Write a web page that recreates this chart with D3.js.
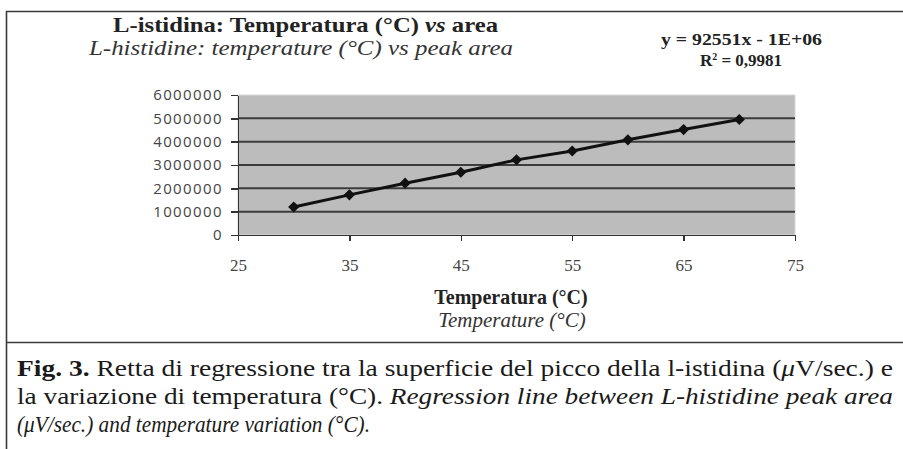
<!DOCTYPE html>
<html lang="it">
<head>
<meta charset="utf-8">
<title>L-istidina: temperatura vs area</title>
<script src="https://cdn.jsdelivr.net/npm/d3@7"></script>
<style>
  body { margin: 0; background: #fff; }
  svg { display: block; }
  .serif { font-family: "Liberation Serif", "Times New Roman", serif; }
  .axis path, .axis line { stroke: #333; stroke-width: 1.5; shape-rendering: crispEdges; }
  .y.axis text { font-family: "Open Sans", sans-serif; font-size: 15px; fill: #444; letter-spacing: 1.4px; }
  .x.axis text { font-family: "Liberation Serif", serif; font-size: 17px; fill: #444; }
</style>
</head>
<body>
<script>
  var w = 903;
  var h = 449;

  // data
  var temps = [30, 35, 40, 45, 50, 55, 60, 65, 70];
  var areas = [1200000, 1720000, 2220000, 2690000, 3220000, 3600000, 4080000, 4520000, 4950000];
  var xTicks = [25, 35, 45, 55, 65, 75];
  var yTicks = [0, 1000000, 2000000, 3000000, 4000000, 5000000, 6000000];

  var plot = { left: 238, right: 795, top: 95, bottom: 235 };

  var svg = d3.select("body").append("svg")
    .attr("width", w)
    .attr("height", h);

  // frame
  svg.append("path")
    .attr("d", "M903,11.5 H6.5 V449 M6.5,342.5 H903")
    .attr("fill", "none")
    .attr("stroke", "#3a3a3a")
    .attr("stroke-width", 1.6);

  var xScale = d3.scaleLinear().domain([25, 75]).range([plot.left, plot.right]);
  var yScale = d3.scaleLinear().domain([0, 6000000]).range([plot.bottom, plot.top]);

  svg.append("rect")
    .attr("x", plot.left)
    .attr("y", plot.top)
    .attr("width", plot.right - plot.left)
    .attr("height", plot.bottom - plot.top)
    .attr("fill", "#bcbcbc")
    .attr("stroke", "#d8d8d8");

  // gridlines
  svg.selectAll("line.grid")
    .data(yTicks.slice(1, -1))
    .enter()
    .append("line")
    .attr("class", "grid")
    .attr("x1", plot.left)
    .attr("x2", plot.right)
    .attr("y1", function(d) { return yScale(d); })
    .attr("y2", function(d) { return yScale(d); })
    .attr("stroke", "#3c3c3c")
    .attr("stroke-width", 2);

  var yAxis = d3.axisLeft(yScale)
    .tickValues(yTicks)
    .tickFormat(function(d) { return String(d); })
    .tickSize(7)
    .tickPadding(8)
    .tickSizeOuter(0);

  var xAxis = d3.axisBottom(xScale)
    .tickValues(xTicks)
    .tickFormat(d3.format("d"))
    .tickSize(6)
    .tickPadding(18)
    .tickSizeOuter(0);

  svg.append("g")
    .attr("class", "y axis")
    .attr("transform", "translate(" + plot.left + ",0)")
    .call(yAxis);

  svg.append("g")
    .attr("class", "x axis")
    .attr("transform", "translate(0," + plot.bottom + ")")
    .call(xAxis);

  // series
  var line = d3.line()
    .x(function(d, i) { return xScale(temps[i]); })
    .y(function(d) { return yScale(d); });

  svg.append("path")
    .datum(areas)
    .attr("d", line)
    .attr("fill", "none")
    .attr("stroke", "#111")
    .attr("stroke-width", 3);

  svg.selectAll("path.pt")
    .data(areas)
    .enter()
    .append("path")
    .attr("class", "pt")
    .attr("d", d3.symbol().type(d3.symbolDiamond2).size(80))
    .attr("transform", function(d, i) { return "translate(" + xScale(temps[i]) + "," + yScale(d) + ")"; })
    .attr("fill", "#111");

  // titles
  var t1 = svg.append("text").attr("class", "serif")
    .attr("x", 113).attr("y", 32)
    .attr("font-size", 21).attr("font-weight", "bold").attr("fill", "#222")
    .attr("textLength", 385).attr("lengthAdjust", "spacingAndGlyphs");
  t1.append("tspan").text("L-istidina: Temperatura (°C) ");
  t1.append("tspan").attr("font-style", "italic").text("vs");
  t1.append("tspan").text(" area");

  svg.append("text").attr("class", "serif")
    .attr("x", 89).attr("y", 55)
    .attr("font-size", 21).attr("font-style", "italic").attr("fill", "#333")
    .attr("textLength", 424).attr("lengthAdjust", "spacingAndGlyphs")
    .text("L-histidine: temperature (°C) vs peak area");

  svg.append("text").attr("class", "serif")
    .attr("x", 661).attr("y", 45)
    .attr("font-size", 17).attr("font-weight", "bold").attr("fill", "#222")
    .attr("textLength", 161).attr("lengthAdjust", "spacingAndGlyphs")
    .text("y = 92551x - 1E+06");

  var r2 = svg.append("text").attr("class", "serif")
    .attr("x", 741).attr("y", 66)
    .attr("text-anchor", "middle")
    .attr("font-size", 17).attr("font-weight", "bold").attr("fill", "#222");
  r2.append("tspan").text("R");
  r2.append("tspan").attr("font-size", 10).attr("dy", -6).text("2");
  r2.append("tspan").attr("dy", 6).text(" = 0,9981");

  // axis titles
  svg.append("text").attr("class", "serif")
    .attr("x", 511).attr("y", 304)
    .attr("text-anchor", "middle")
    .attr("font-size", 20).attr("font-weight", "bold").attr("fill", "#222")
    .text("Temperatura (°C)");

  svg.append("text").attr("class", "serif")
    .attr("x", 512).attr("y", 327)
    .attr("text-anchor", "middle")
    .attr("font-size", 21).attr("font-style", "italic").attr("fill", "#333")
    .text("Temperature (°C)");

  // caption
  var c1 = svg.append("text").attr("class", "serif")
    .attr("x", 17).attr("y", 376)
    .attr("font-size", 24).attr("fill", "#1a1a1a")
    .attr("textLength", 876).attr("lengthAdjust", "spacingAndGlyphs");
  c1.append("tspan").attr("font-weight", "bold").text("Fig. 3.");
  c1.append("tspan").text(" Retta di regressione tra la superficie del picco della l-istidina (");
  c1.append("tspan").attr("font-style", "italic").text("μ");
  c1.append("tspan").text("V/sec.) e");

  var c2 = svg.append("text").attr("class", "serif")
    .attr("x", 17).attr("y", 404)
    .attr("font-size", 24).attr("fill", "#1a1a1a")
    .attr("textLength", 876).attr("lengthAdjust", "spacingAndGlyphs");
  c2.append("tspan").text("la variazione di temperatura (°C). ");
  c2.append("tspan").attr("font-style", "italic").text("Regression line between L-histidine peak area");

  svg.append("text").attr("class", "serif")
    .attr("x", 17).attr("y", 432)
    .attr("font-size", 24).attr("font-style", "italic").attr("fill", "#1a1a1a")
    .attr("textLength", 353).attr("lengthAdjust", "spacingAndGlyphs")
    .text("(μV/sec.) and temperature variation (°C).");
</script>
</body>
</html>
